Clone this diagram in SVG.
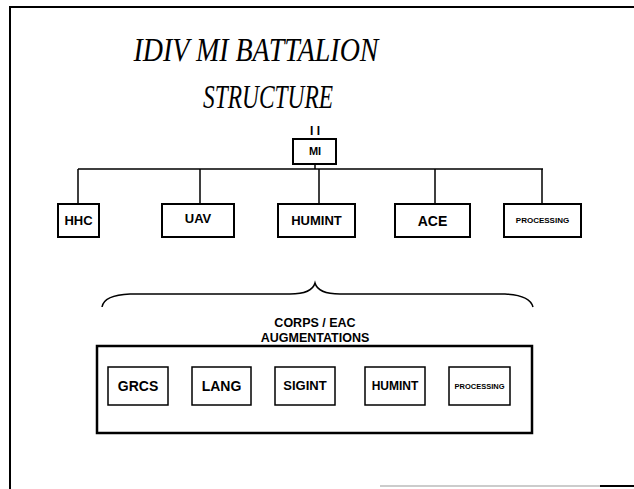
<svg xmlns="http://www.w3.org/2000/svg" width="634" height="489" viewBox="0 0 634 489">
<style>
.box{fill:#fff;stroke:#000;stroke-width:2}
.ibox{fill:#fff;stroke:#000;stroke-width:1.5}
.lbl{font-family:"Liberation Sans",Arial,sans-serif;font-weight:bold;text-anchor:middle;fill:#000}
.ln{stroke:#000;stroke-width:1.5;fill:none}
</style>
<rect width="634" height="489" fill="#fff"/>
<g id="frame" fill="none" stroke="#000">
<path d="M10 489 V7 H634" stroke-width="2"/>
<path d="M380 486 H634" stroke="#999" stroke-width="1"/>
<path d="M600 486 H634" stroke-width="2"/>
</g>
<g id="title" font-family="Liberation Serif, Times New Roman, serif" font-style="italic" font-size="33" text-anchor="middle" fill="#000">
<text x="256" y="61" textLength="245" lengthAdjust="spacingAndGlyphs">IDIV MI BATTALION</text>
<text x="268" y="108" textLength="130" lengthAdjust="spacingAndGlyphs">STRUCTURE</text>
</g>
<g id="connectors">
<path class="ln" d="M315 164 V169 M78 169 H543 M78 169 V204 M200 169 V204 M319 169 V204 M435 169 V204 M542 169 V204"/>
<path class="ln" d="M102 307 Q104 295 130 294 H290 Q312 294 315 283 Q318 294 340 294 H505 Q530 295 533 307"/>
</g>
<g id="MI">
<text class="lbl" x="315" y="135" font-size="12">I I</text>
<rect class="box" x="293" y="139" width="43" height="25" stroke-width="1.5"/>
<text class="lbl" x="315" y="155" font-size="11">MI</text>
</g>
<g id="HHC"><rect class="box" x="58" y="204" width="41" height="33"/><text class="lbl" x="78.5" y="225" font-size="13">HHC</text></g>
<g id="UAV"><rect class="box" x="162" y="204" width="72" height="33"/><text class="lbl" x="198" y="223" font-size="13">UAV</text></g>
<g id="HUMINT"><rect class="box" x="278" y="204" width="77" height="33" stroke-width="2.5"/><text class="lbl" x="316.5" y="225" font-size="13">HUMINT</text></g>
<g id="ACE"><rect class="box" x="395" y="204" width="75" height="33"/><text class="lbl" x="432.5" y="226" font-size="14">ACE</text></g>
<g id="PROCESSING"><rect class="box" x="504" y="204" width="77" height="33"/><text class="lbl" x="542.5" y="223" font-size="8">PROCESSING</text></g>
<g id="augmentations">
<text class="lbl" x="315" y="327" font-size="12.5">CORPS / EAC</text>
<text class="lbl" x="315" y="342" font-size="12.5">AUGMENTATIONS</text>
<rect x="97" y="346" width="435" height="87" fill="none" stroke="#000" stroke-width="2.5"/>
</g>
<g id="GRCS"><rect class="ibox" x="108" y="367" width="60" height="38"/><text class="lbl" x="138" y="391" font-size="14">GRCS</text></g>
<g id="LANG"><rect class="ibox" x="192" y="367" width="59" height="38"/><text class="lbl" x="221.5" y="391" font-size="14">LANG</text></g>
<g id="SIGINT"><rect class="ibox" x="275" y="367" width="60" height="38"/><text class="lbl" x="305" y="390" font-size="13">SIGINT</text></g>
<g id="HUMINT2"><rect class="ibox" x="365" y="367" width="60" height="38"/><text class="lbl" x="395" y="390" font-size="12">HUMINT</text></g>
<g id="PROCESSING2"><rect class="ibox" x="449" y="367" width="61" height="38" stroke-width="1"/><text class="lbl" x="479.5" y="389" font-size="7.5">PROCESSING</text></g>
</svg>
